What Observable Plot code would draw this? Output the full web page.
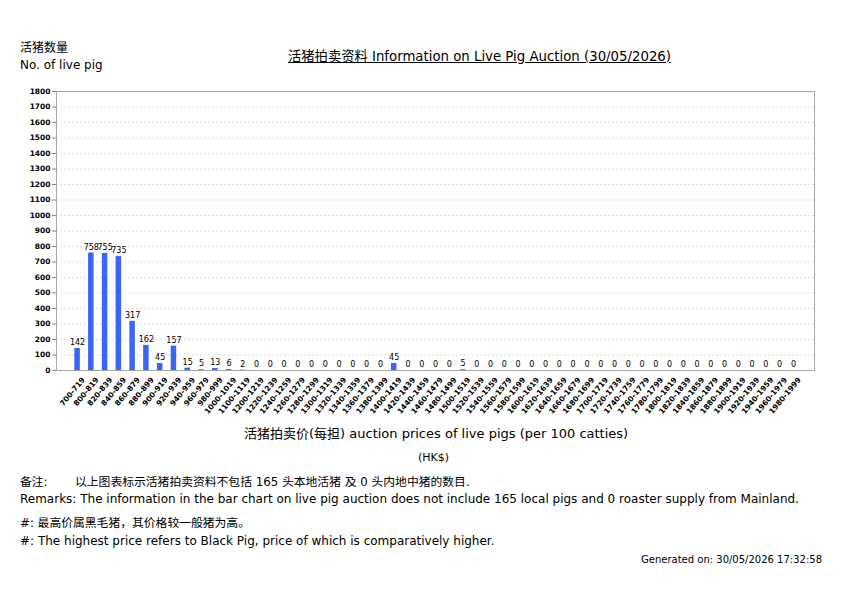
<!DOCTYPE html>
<html>
<head>
<meta charset="utf-8">
<script src="https://cdn.jsdelivr.net/npm/d3@7"></script>
<script src="https://cdn.jsdelivr.net/npm/@observablehq/plot@0.6"></script>
<style>
  html, body { margin: 0; padding: 0; background: #fff; }
  body { width: 842px; height: 595px; position: relative; overflow: hidden;
         font-family: "DejaVu Sans", "Noto Sans CJK SC", sans-serif; color: #000; }
  .t { position: absolute; white-space: nowrap; line-height: 1; }
  .cjk { font-family: "DejaVu Sans", "Noto Sans CJK SC", sans-serif; }
  #chart { position: absolute; left: 0; top: 85px; }
</style>
</head>
<body>
<div class="t cjk" style="left:20px;top:42px;font-size:12px;">活猪数量</div>
<div class="t" style="left:20px;top:59px;font-size:12px;">No. of live pig</div>
<div class="t cjk" style="left:288px;top:50px;font-size:13.3px;text-decoration:underline;">活猪拍卖资料 Information on Live Pig Auction (30/05/2026)</div>
<div id="chart"></div>
<div class="t cjk" style="left:244px;top:427px;font-size:13px;">活猪拍卖价(每担) auction prices of live pigs (per 100 catties)</div>
<div class="t" style="left:418px;top:452px;font-size:11px;">(HK$)</div>
<div class="t cjk" style="left:20px;top:477px;font-size:11.8px;">备注:</div>
<div class="t cjk" style="left:75px;top:477px;font-size:11.8px;">以上图表标示活猪拍卖资料不包括 165 头本地活猪 及 0 头内地中猪的数目.</div>
<div class="t" style="left:20px;top:493px;font-size:12px;">Remarks: The information in the bar chart on live pig auction does not include 165 local pigs and 0 roaster supply from Mainland.</div>
<div class="t cjk" style="left:20px;top:518px;font-size:11.8px;">#: 最高价属黑毛猪，其价格较一般猪为高。</div>
<div class="t" style="left:20px;top:535px;font-size:12px;">#: The highest price refers to Black Pig, price of which is comparatively higher.</div>
<div class="t" style="right:20px;top:555px;font-size:10px;">Generated on: 30/05/2026 17:32:58</div>
<script>
const categories = [
  "700-719","800-819","820-839","840-859","860-879","880-899","900-919","920-939","940-959","960-979","980-999","1000-1019",
  "1100-1119","1200-1219","1220-1239","1240-1259","1260-1279","1280-1299","1300-1319","1320-1339","1340-1359","1360-1379","1380-1399","1400-1419",
  "1420-1439","1440-1459","1460-1479","1480-1499","1500-1519","1520-1539","1540-1559","1560-1579","1580-1599","1600-1619","1620-1639","1640-1659",
  "1660-1679","1680-1699","1700-1719","1720-1739","1740-1759","1760-1779","1780-1799","1800-1819","1820-1839","1840-1859","1860-1879","1880-1899",
  "1900-1919","1920-1939","1940-1959","1960-1979","1980-1999"
];
const counts = [
  142,758,755,735,317,162,45,157,15,5,13,6,
  2,0,0,0,0,0,0,0,0,0,0,45,
  0,0,0,0,5,0,0,0,0,0,0,0,
  0,0,0,0,0,0,0,0,0,0,0,0,
  0,0,0,0,0
];
const yTicks = d3.range(0, 1801, 100);

const data = categories.map((c, i) => ({cat: c, n: counts[i]}));

const chart = Plot.plot({
  width: 842,
  height: 345,
  marginLeft: 56,
  marginRight: 28,
  marginTop: 6,
  marginBottom: 60,
  style: {fontFamily: "DejaVu Sans, sans-serif", background: "transparent"},
  x: {type: "band", domain: categories, paddingInner: 0.6, paddingOuter: 1.33},
  y: {domain: [0, 1800]},
  marks: [
    Plot.gridY(yTicks, {stroke: "#dcdcdc", strokeOpacity: 1, strokeDasharray: "2,2"}),
    Plot.barY(data, {x: "cat", y: "n", fill: "#3a66f2"}),
    Plot.text(data, {x: "cat", y: "n", text: d => String(d.n), dy: -6, fontSize: 8, fill: "#000"}),
    Plot.frame({stroke: "#a8a8a8"}),
    Plot.axisY({ticks: yTicks, tickFormat: d => String(d), tickSize: 4, tickPadding: 2, label: null, fontSize: 7.5, fontWeight: "bold", stroke: "#888"}),
    Plot.axisX({tickSize: 0, tickPadding: 4, tickRotate: -50, dx: 6, dy: 4, label: null, fontSize: 7.5, fontWeight: "bold"})
  ]
});
document.getElementById("chart").appendChild(chart);
</script>
</body>
</html>
